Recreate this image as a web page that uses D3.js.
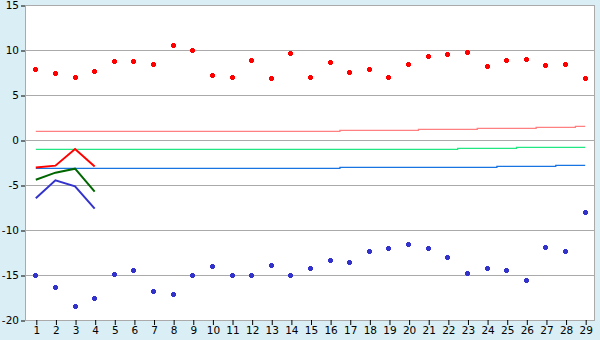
<!DOCTYPE html>
<html>
<head>
<meta charset="utf-8">
<style>
    body { margin: 0; background: #daeff5; }
    svg { display: block; }
    .axis text { font-family: "DejaVu Sans", Verdana, sans-serif; font-size: 10.5px; fill: #000; }
    .axis .tick line { stroke: #000; }
    .axis .domain { display: none; }
    .grid line { stroke: #aaaaaa; shape-rendering: crispEdges; }
</style>
</head>
<body>
<svg width="600" height="340"></svg>
<script src="https://d3js.org/d3.v7.min.js"></script>
<script>
// x categories 1..29
let categories = d3.range(1, 30)

// scatter series
let redPoints = [7.85, 7.4, 6.96, 7.63, 8.74, 8.74, 8.41, 10.52, 9.96, 7.19,
    6.96, 8.85, 6.85, 9.63, 6.96, 8.63, 7.52, 7.85, 6.96, 8.41,
    9.3, 9.52, 9.74, 8.19, 8.85, 8.96, 8.3, 8.41, 6.85]
let bluePoints = [-15.04, -16.37, -18.48, -17.6, -14.93, -14.48, -16.82, -17.15, -15.04, -14.04,
    -15.04, -15.04, -13.93, -15.04, -14.26, -13.37, -13.59, -12.37, -12.04, -11.59,
    -12.04, -13.04, -14.82, -14.26, -14.48, -15.59, -11.93, -12.37, -8.03]

// stepped level lines
let pinkLevel = [0.96, 0.96, 0.96, 0.96, 0.96, 0.96, 0.96, 0.96, 0.96, 0.96,
    0.96, 0.96, 0.96, 0.96, 0.96, 0.96, 1.07, 1.07, 1.07, 1.07,
    1.19, 1.19, 1.19, 1.3, 1.3, 1.3, 1.41, 1.41, 1.52]
let greenLevel = [-1.04, -1.04, -1.04, -1.04, -1.04, -1.04, -1.04, -1.04, -1.04, -1.04,
    -1.04, -1.04, -1.04, -1.04, -1.04, -1.04, -1.04, -1.04, -1.04, -1.04,
    -1.04, -1.04, -0.93, -0.93, -0.93, -0.81, -0.81, -0.81, -0.81]
let blueLevel = [-3.15, -3.15, -3.15, -3.15, -3.15, -3.15, -3.15, -3.15, -3.15, -3.15,
    -3.15, -3.15, -3.15, -3.15, -3.15, -3.15, -3.04, -3.04, -3.04, -3.04,
    -3.04, -3.04, -3.04, -3.04, -2.93, -2.93, -2.93, -2.81, -2.81]

// short lines over the first four categories
let redShort = [-3.05, -2.85, -1.0, -2.95]
let greenShort = [-4.41, -3.63, -3.19, -5.74]
let blueShort = [-6.48, -4.48, -5.15, -7.63]

let yTicks = [15, 10, 5, 0, -5, -10, -15, -20]

let margin = { top: 5, right: 5, bottom: 20, left: 26 }
let width = 600, height = 340

let svg = d3.select("svg")

let x = d3.scalePoint()
    .domain(categories)
    .range([margin.left, width - margin.right])
    .padding(0.5)

let y = d3.scaleLinear()
    .domain([-20, 15])
    .range([height - margin.bottom, margin.top])

// plot background
svg.append("rect")
    .attr("x", margin.left)
    .attr("y", margin.top)
    .attr("width", width - margin.right - margin.left)
    .attr("height", height - margin.bottom - margin.top)
    .attr("fill", "#fff")

// gridlines
svg.append("g")
    .attr("class", "grid")
    .selectAll("line")
    .data(yTicks)
    .join("line")
    .attr("x1", margin.left)
    .attr("x2", width - margin.right)
    .attr("y1", d => Math.round(y(d)) + 0.5)
    .attr("y2", d => Math.round(y(d)) + 0.5)

// frame: left and right
svg.append("g")
    .attr("class", "grid")
    .selectAll("line")
    .data([margin.left, width - margin.right])
    .join("line")
    .attr("x1", d => d - 0.5)
    .attr("x2", d => d - 0.5)
    .attr("y1", margin.top)
    .attr("y2", height - margin.bottom + 0.5)
    .attr("stroke-width", 1.5)

let yAxis = d3.axisLeft(y)
    .tickValues(yTicks)
    .tickSize(4)
    .tickPadding(2)
    .tickFormat(d => String(d))   // plain hyphen, narrower than the unicode minus

svg.append("g")
    .attr("class", "axis")
    .attr("transform", `translate(${margin.left - 1},0.5)`)
    .call(yAxis)

let xAxis = d3.axisBottom(x)
    .tickSize(5)
    .tickPadding(2)

svg.append("g")
    .attr("class", "axis")
    .attr("transform", `translate(0.5,${height - margin.bottom})`)
    .call(xAxis)

let lineOf = (vals, curve) => d3.line()
    .x((d, i) => x(categories[i]))
    .y(d => y(d))
    .curve(curve)(vals)

// stepped level lines
let levels = [
    { vals: pinkLevel, color: "#ff8080" },
    { vals: greenLevel, color: "#22e884" },
    { vals: blueLevel, color: "#1774e0" }
]
svg.append("g")
    .selectAll("path")
    .data(levels)
    .join("path")
    .attr("d", d => lineOf(d.vals, d3.curveStep))
    .attr("fill", "none")
    .attr("stroke", d => d.color)
    .attr("stroke-width", 1.3)

// short lines
let shorts = [
    { vals: blueShort, color: "#3333cc" },
    { vals: greenShort, color: "#006600" },
    { vals: redShort, color: "#ff0000" }
]
svg.append("g")
    .selectAll("path")
    .data(shorts)
    .join("path")
    .attr("d", d => lineOf(d.vals, d3.curveLinear))
    .attr("fill", "none")
    .attr("stroke", d => d.color)
    .attr("stroke-width", 2)

// scatter markers: a fat little plus
let fatCross = {
    draw(ctx, size) {
        let a = 1.5, b = 2.5
        ctx.moveTo(-a, -b); ctx.lineTo(a, -b); ctx.lineTo(a, -a); ctx.lineTo(b, -a)
        ctx.lineTo(b, a); ctx.lineTo(a, a); ctx.lineTo(a, b); ctx.lineTo(-a, b)
        ctx.lineTo(-a, a); ctx.lineTo(-b, a); ctx.lineTo(-b, -a); ctx.lineTo(-a, -a)
        ctx.closePath()
    }
}
let marker = d3.symbol().type(fatCross)
let scatter = [
    { vals: redPoints, color: "#ff0000" },
    { vals: bluePoints, color: "#3333cc" }
]
scatter.forEach(s => {
    svg.append("g")
        .selectAll("path")
        .data(s.vals)
        .join("path")
        .attr("transform", (d, i) => `translate(${Math.floor(x(categories[i])) + 0.5},${Math.floor(y(d)) + 0.5})`)
        .attr("d", marker)
        .attr("fill", s.color)
        .attr("shape-rendering", "crispEdges")
})
</script>
</body>
</html>
